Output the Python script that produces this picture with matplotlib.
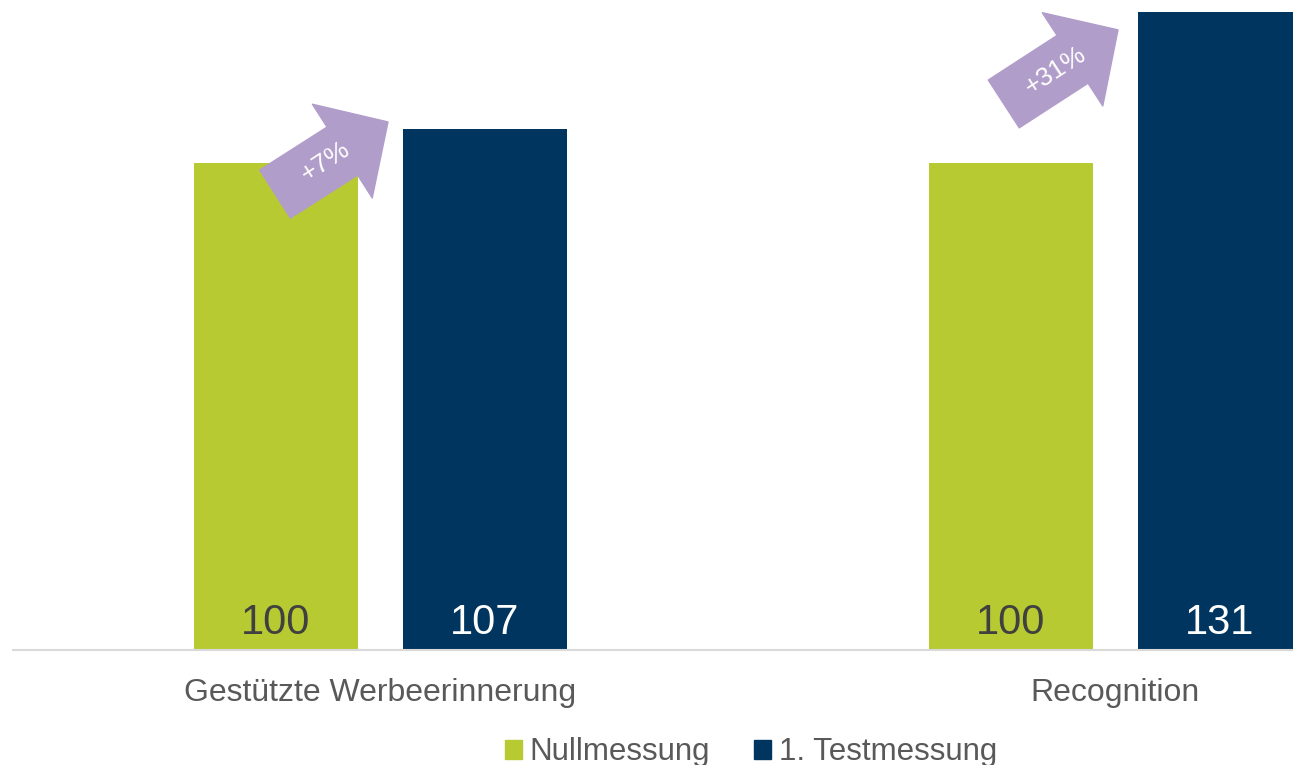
import numpy as np
import matplotlib.pyplot as plt
from matplotlib.patches import Patch

plt.rcParams['font.family'] = ['Liberation Sans', 'DejaVu Sans']

# Daten
kategorien = ['Gestützte Werbeerinnerung', 'Recognition']
nullmessung = [100, 100]
testmessung = [107, 131]
zuwachs = ['+7%', '+31%']

gruen = '#B7CA32'
blau = '#00355F'
lila = '#B19DCA'
grau = '#595959'

W, H = 1293, 765
fig = plt.figure(figsize=(W / 100, H / 100), dpi=100)
# Achse ragt rechts ueber den Rand hinaus (wie im Original abgeschnitten)
ax = fig.add_axes([13 / W, 1 - 650 / H, 1470 / W, 682 / H])

x = np.arange(len(kategorien))
breite = 0.223
versatz = 0.1422

ax.bar(x - versatz, nullmessung, breite, color=gruen, label='Nullmessung')
ax.bar(x + versatz, testmessung, breite, color=blau, label='1. Testmessung')

for i in range(len(kategorien)):
    ax.text(x[i] - versatz, 3.3, f'{nullmessung[i]}', ha='center', va='baseline',
            fontsize=30, color='#404040')
    ax.text(x[i] + versatz, 3.3, f'{testmessung[i]}', ha='center', va='baseline',
            fontsize=30, color='white')

ax.set_xlim(-0.5, 1.5)
ax.set_ylim(0, 140)
ax.set_xticks(x)
ax.set_xticklabels(kategorien, fontsize=23, color=grau)
ax.tick_params(axis='x', length=0, pad=20)
ax.set_yticks([])
for s in ['top', 'right', 'left']:
    ax.spines[s].set_visible(False)
ax.spines['bottom'].set_color('#D9D9D9')
ax.spines['bottom'].set_linewidth(1.5)

# Pfeile mit Zuwachs (Start/Ende in Datenkoordinaten)
pfeil_start = [(-0.1435, 93.6), (0.848, 112.1)]
pfeil_ende = [(0.0102, 108.4), (1.0034, 127.3)]
for (x0, y0), (x1, y1), txt in zip(pfeil_start, pfeil_ende, zuwachs):
    ax.annotate('', xy=(x1, y1), xytext=(x0, y0),
                arrowprops=dict(arrowstyle='simple,head_length=3.9,head_width=8.0,tail_width=4.1',
                                mutation_scale=10, color=lila, shrinkA=0, shrinkB=0),
                annotation_clip=False)
    tx = x0 + 0.45 * (x1 - x0)
    ty = y0 + 0.45 * (y1 - y0)
    ax.text(tx, ty, txt, rotation=33, rotation_mode='anchor', ha='center', va='center',
            fontsize=19, color='white')

handles = [Patch(color=gruen, label='Nullmessung'), Patch(color=blau, label='1. Testmessung')]
fig.legend(handles=handles, loc='lower center', bbox_to_anchor=(751 / W, -0.04), ncol=2,
           frameon=False, fontsize=22.5, labelcolor=grau, handlelength=0.55, handleheight=0.55,
           handletextpad=0.25, columnspacing=1.4)

fig.savefig('out.png', dpi=100)
